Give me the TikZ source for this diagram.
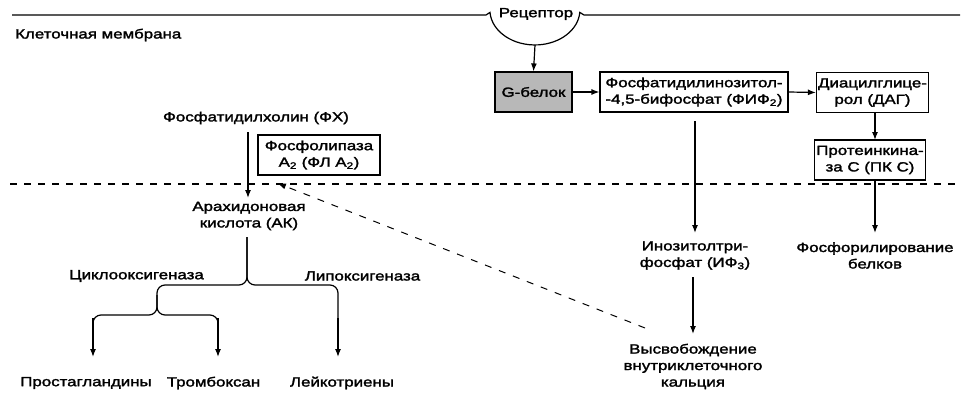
\documentclass[tikz,border=0pt]{standalone}
\usepackage{fontspec}
\setmainfont{Liberation Sans}[FakeStretch=1.27, FakeBold=2]
\usetikzlibrary{arrows.meta}
\begin{document}
\begin{tikzpicture}[x=1pt,y=-1pt,
  every node/.style={font=\fontsize{13.3}{16.5}\selectfont, inner sep=1pt, align=center},
  box/.style={draw, line width=1.2pt, minimum height=40pt, inner sep=1pt},
  arr/.style={line width=1.2pt, -{Latex[length=8pt,width=6pt]}},
  ln/.style={line width=1.2pt},
  memb/.style={line width=1.1pt, dash pattern=on 7pt off 7pt},
  dsh/.style={line width=1pt, dash pattern=on 7pt off 8pt, -{Latex[length=9pt,width=6pt]}}
]
\useasboundingbox (0,0) rectangle (980,412);
% membranes
\draw[ln] (12,15) -- (486,15) .. controls (488.5,14.5) .. (490,12.4)
  arc[start angle=176, end angle=4, x radius=45, y radius=35]
  .. controls (581.5,14.5) .. (584,15) -- (960,15);
\coordinate (rec) at (535,45);
\node (rtext) at (536,14) {Рецептор};
\node[anchor=west] (memtext) at (14,35) {Клеточная мембрана};
\draw[memb] (10,184) -- (960,184);

% left part
\node (fx) at (256,118) {Фосфатидилхолин (ФХ)};
\node[box, minimum width=122pt] (fla) at (319,155) {Фосфолипаза\\A\textsubscript{2} (ФЛ A\textsubscript{2})};
\node (ak) at (249,216) {Арахидоновая\\кислота (АК)};
\draw[arr] (248,132) -- (248,198);
\node (cox) at (136.5,276) {Циклооксигеназа};
\node (lox) at (362.5,276) {Липоксигеназа};
\node (pg) at (86,383) {Простагландины};
\node (tx) at (213.5,383) {Тромбоксан};
\node (lt) at (342,383) {Лейкотриены};

\coordinate (b1) at (247,285);
\coordinate (b2) at (157,315);
\draw[ln, rounded corners=8pt] (247,237) -- (b1) -- (157,285) -- (b2) -- (93,315) -- (93,320);
\draw[ln, rounded corners=8pt] (247,237) -- (b1) -- (338,285) -- (338,320);
\draw[ln, rounded corners=8pt] (157,295) -- (b2) -- (218,315) -- (218,320);
\draw[arr] (93,318) -- (93,357);
\draw[arr] (218,318) -- (218,357);
\draw[arr] (338,318) -- (338,357);

% right part
\node[box, minimum width=77pt, fill=black!28] (g) at (533.5,92) {G-белок};
\node[box, minimum width=188pt] (fif) at (694,92) {Фосфатидилинозитол-\\-4,5-бифосфат (ФИФ\textsubscript{2})};
\node[box, minimum width=112pt] (dag) at (872.5,92.5) {Диацилглице-\\рол (ДАГ)};
\node[box, minimum width=111pt] (pkc) at (870,160) {Протеинкина-\\за С (ПК С)};
\node (ip3) at (695,255.5) {Инозитолтри-\\фосфат (ИФ\textsubscript{3})};
\node (fos) at (875,255.5) {Фосфорилирование\\белков};
\node (vys) at (693,366.5) {Высвобождение\\внутриклеточного\\кальция};

\draw[arr] (rec) -- (g.north);
\draw[arr] (g.east) -- (fif.west);
\draw[arr] (fif.east) -- (dag.west);
\draw[arr] (875,113) -- (875,140);
\draw[arr] (695,121) -- (695,233);
\draw[arr] (875,180) -- (875,233);
\draw[arr] (693,277) -- (693,334);
\coordinate (dstart) at (645,328);
\coordinate (dend) at (277,183);
\draw[dsh] (dstart) -- (dend);
\end{tikzpicture}
\end{document}
